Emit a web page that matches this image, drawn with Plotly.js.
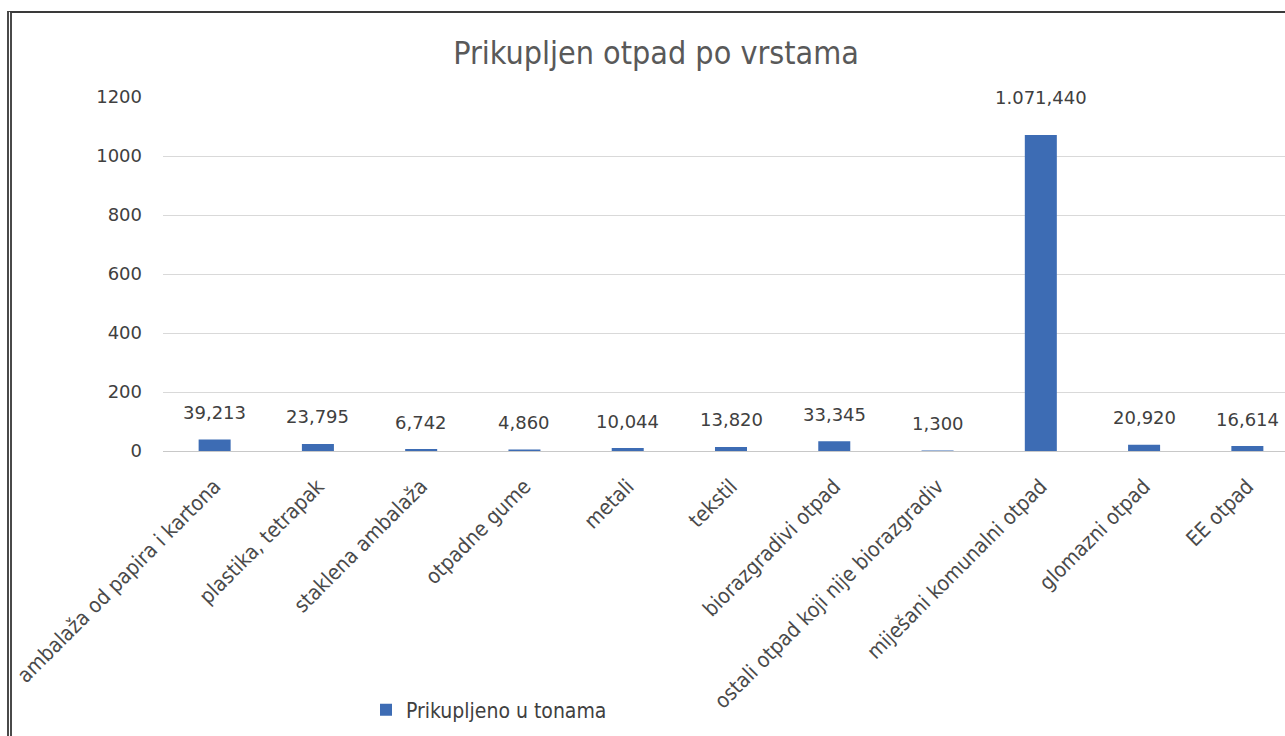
<!DOCTYPE html>
<html>
<head>
<meta charset="utf-8">
<script src="https://cdn.plot.ly/plotly-3.0.1.min.js"></script>
<style>
  html, body { margin: 0; padding: 0; width: 1285px; height: 736px; overflow: hidden; background: #fff; }
  #chart { position: absolute; left: 0; top: 0; width: 1299px; height: 736px; }
  #frame { position: absolute; left: 7px; top: 11px; width: 1300px; height: 740px;
           border-top: 2px solid #3a3a3a; border-left: 5px double #4a4a4a;
           pointer-events: none; z-index: 10; }
</style>
</head>
<body>
<div id="chart"></div>
<div id="frame"></div>
<script>
const categories = [
  "ambalaža od papira i kartona",
  "plastika, tetrapak",
  "staklena ambalaža",
  "otpadne gume",
  "metali",
  "tekstil",
  "biorazgradivi otpad",
  "ostali otpad koji nije biorazgradiv",
  "miješani komunalni otpad",
  "glomazni otpad",
  "EE otpad"
];
const values = [39.213, 23.795, 6.742, 4.860, 10.044, 13.820, 33.345, 1.300, 1071.440, 20.920, 16.614];
const yTicks = [0, 200, 400, 600, 800, 1000, 1200];
const seriesName = "Prikupljeno u tonama";
const chartTitle = "Prikupljen otpad po vrstama";

function fmtHr(v) {
  const parts = v.toFixed(3).split(".");
  const intPart = parts[0].replace(/\B(?=(\d{3})+(?!\d))/g, ".");
  return intPart + "," + parts[1];
}

const W = 1299, H = 736;
const barColor = "#3d6cb4";
const fontMain = "DejaVu Sans, Liberation Sans, sans-serif";
const fontNarrow = "Liberation Sans Narrow, DejaVu Sans Condensed, Liberation Sans, sans-serif";

const trace = {
  type: "bar",
  x: categories,
  y: values,
  name: seriesName,
  marker: { color: barColor },
  showlegend: true,
  hoverinfo: "x+y"
};

const annotations = categories.map((c, i) => ({
  x: c, y: values[i], xref: "x", yref: "y",
  text: fmtHr(values[i]),
  showarrow: false,
  yanchor: "middle",
  yshift: i === 8 ? 37 : 27,
  font: { family: fontMain, size: 18, color: "#404040" }
}));

const layout = {
  width: W, height: H,
  margin: { l: 163, r: 0, t: 97, b: 285, pad: 0 },
  paper_bgcolor: "#ffffff",
  plot_bgcolor: "#ffffff",
  bargap: 0.69,
  title: {
    text: chartTitle,
    x: 656 / W, xref: "container", xanchor: "center",
    y: 1 - 53 / H, yref: "container", yanchor: "middle",
    font: { family: fontNarrow, size: 32, color: "#595959" }
  },
  xaxis: {
    type: "category",
    range: [-0.5, 10.5],
    tickangle: -45,
    ticklabelstandoff: 18,
    showgrid: false,
    showline: false,
    zeroline: false,
    ticks: "",
    tickfont: { family: fontNarrow, size: 21, color: "#4a4a4a" },
    automargin: false
  },
  yaxis: {
    range: [0, 1200],
    tickvals: yTicks,
    ticktext: yTicks.map(String),
    showgrid: true,
    gridcolor: "#d9d9d9",
    gridwidth: 1,
    zeroline: true,
    zerolinecolor: "#c8c8c8",
    zerolinewidth: 1,
    showline: false,
    ticks: "",
    ticklabelstandoff: 20,
    tickfont: { family: fontMain, size: 18, color: "#404040" },
    automargin: false
  },
  showlegend: true,
  legend: {
    orientation: "h",
    xref: "container", yref: "container",
    x: 366 / W, xanchor: "left",
    y: 1 - 710 / H, yanchor: "middle",
    bgcolor: "rgba(0,0,0,0)",
    font: { family: fontNarrow, size: 21, color: "#404040" },
    itemwidth: 30
  },
  annotations: annotations
};

Plotly.newPlot("chart", [trace], layout, { displayModeBar: false, staticPlot: true });
</script>
</body>
</html>
